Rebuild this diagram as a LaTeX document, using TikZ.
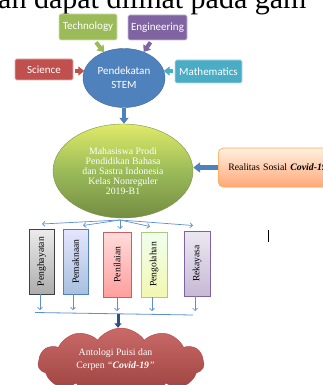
\documentclass[tikz,border=0pt]{standalone}
\usepackage{fontspec}
\setmainfont{Liberation Serif}
\newfontfamily\carlito{Carlito}
\usetikzlibrary{shapes.geometric,shapes.symbols,arrows.meta,calc}
\definecolor{scic}{HTML}{C0504D}
\definecolor{techc}{HTML}{9BBB59}
\definecolor{engc}{HTML}{8064A2}
\definecolor{mathc}{HTML}{4BACC6}
\definecolor{stemc}{HTML}{4F81BD}
\definecolor{fanc}{HTML}{5B8FD0}
\definecolor{darkarr}{HTML}{2C5283}
\begin{document}
\begin{tikzpicture}[x=1pt,y=-1pt,
  sbox/.style={rectangle, rounded corners=1.5pt, inner sep=0pt, text=white,
    font=\carlito\fontsize{11}{13}\selectfont, draw=white!55!#1, line width=0.6pt, fill=#1},
  blk/.style={line width=4pt, -{Triangle[width=9pt,length=6pt]}},
  thin arr/.style={fanc, line width=0.7pt, -{Straight Barb[length=2.5pt,width=5pt]}},
  vbox/.style={rectangle, rotate=90, inner sep=0pt, minimum width=65pt, line width=0.7pt,
    font=\fontsize{9.6}{11}\selectfont},
  serif/.style={font=\fontsize{9.8}{10}\selectfont}
]
\useasboundingbox (0,0) rectangle (323,385);
\clip (0,0) rectangle (323,385);

% top cut text line
\node[anchor=base west, inner sep=0pt, font=\fontsize{30}{32}\selectfont] (toptext) at (-2,8.5) {ah dapat dilihat pada gam};

% STEM cluster
\node[sbox=techc, minimum width=58pt, minimum height=26pt] (tech) at (88,27) {Technology};
\node[sbox=engc, minimum width=59pt, minimum height=25pt] (eng) at (157.5,27.5) {Engineering};
\node[sbox=scic, minimum width=58pt, minimum height=21pt] (sci) at (44,69.5) {Science};
\node[sbox=mathc, minimum width=67pt, minimum height=23pt] (math) at (208.5,71.5) {Mathematics};
\node[ellipse, inner sep=0pt, minimum width=82pt, minimum height=59pt, fill=stemc,
  draw=stemc!80!black, line width=0.4pt, text=white, align=center,
  font=\carlito\fontsize{11}{14}\selectfont] (stem) at (124,78) {Pendekatan\\STEM};

\draw[blk, techc] ([shift={(8,2)}]tech.south) -- (stem.128);
\draw[blk, engc] ([shift={(-7,2)}]eng.south) -- (stem.53);
\draw[blk, scic] ([shift={(2,1.5)}]sci.east) -- ++(9,0);
\draw[blk, mathc] ([shift={(-2,-0.5)}]math.west) -- ++(-9,0);

% central ellipse
\node[ellipse, inner sep=0pt, minimum width=140pt, minimum height=94pt,
  top color=techc!45!yellow!70!white, bottom color=techc!75!black, middle color=techc,
  draw=techc!80!black, line width=0.4pt, text=white, align=center,
  font=\fontsize{9.8}{10}\selectfont] (mhs) at (123,171)
  {Mahasiswa Prodi\\Pendidikan Bahasa\\dan Sastra Indonesia\\Kelas Nonreguler\\2019-B1};

\draw[blk, stemc] (stem.south) -- (stem.south |- mhs.north);

% Realitas box
\node[rectangle, rounded corners=5pt, anchor=west, inner xsep=10pt, inner ysep=0pt,
  minimum height=39pt, text width=105pt, align=left,
  top color=orange!12!white, bottom color=orange!45!white!85!red,
  draw=orange!70!white, line width=0.6pt, serif] (real) at (218,167.5)
  {Realitas Sosial \textbf{\textit{Covid-19}}};
\draw[stemc, line width=5pt, -{Triangle[width=10pt,length=7pt]}] (real.west) -- (real.west -| mhs.east);

% fan of arrows
\coordinate (fo) at (120,220);
\coordinate (f1) at (42,224);
\coordinate (f2) at (83,225.5);
\coordinate (f3) at (120,229);
\coordinate (f4) at (150,226.5);
\coordinate (f5) at (193,225.5);
\foreach \i in {1,...,5} \draw[thin arr] (fo) -- (f\i);

% vertical boxes
\node[vbox, minimum height=25pt, top color=gray!15, bottom color=gray!65, draw=black!75] (pengh) at (41.5,261.5) {Penghayatan};
\node[vbox, minimum height=25pt, top color=blue!10!white, bottom color=stemc!50!white, draw=stemc] (pemak) at (75.5,261.5) {Pemaknaan};
\node[vbox, minimum height=28pt, top color=red!14!white, bottom color=red!38!white, draw=scic!90!white] (penil) at (117,264.5) {Penilaian};
\node[vbox, minimum height=26pt, top color=green!6!white, bottom color=techc!35!yellow!35!white, draw=techc!80!white] (pengo) at (154,264.5) {Pengolahan};
\node[vbox, minimum height=26pt, top color=engc!15!white, bottom color=engc!45!white, draw=engc] (rekay) at (197,263.5) {Rekayasa};

% arrows below boxes
\coordinate (b1) at (40,310);
\coordinate (b2) at (73,310);
\coordinate (b3) at (117,311);
\coordinate (b4) at (152,311);
\coordinate (b5) at (195,311);
\draw[thin arr] (pengh.west -| b1) -- (b1);
\draw[thin arr] (pemak.west -| b2) -- (b2);
\draw[thin arr] (penil.west -| b3) -- (b3);
\draw[thin arr] (pengo.west -| b4) -- (b4);
\draw[thin arr] (rekay.west -| b5) -- (b5);
\coordinate (hl) at (35,312.5);
\coordinate (hr) at (193,315);
\draw[fanc, line width=0.8pt] (hl) -- (hr);

% cloud
\node[cloud, cloud puffs=11, cloud puff arc=110, aspect=2.5, inner sep=0pt,
  minimum width=166pt, minimum height=70pt,
  top color=scic!85!white, bottom color=scic!80!black, draw=scic!90!black, line width=0.4pt] (cloud) at (121,363) {};
\node[text=white, align=center, inner sep=0pt, font=\fontsize{9.8}{13}\selectfont] (cloudtxt) at (115.5,359.5)
  {Antologi Puisi dan\\Cerpen \textit{``\textbf{Covid-19}''}};
\coordinate (cs) at (118,313.5);
\draw[darkarr, line width=3pt, -{Triangle[width=7pt,length=4.5pt]}] (cs) -- (cs |- cloud.north);

% text cursor mark
\draw[black, line width=1.3pt] (268.5,230) -- (268.5,242);
\end{tikzpicture}
\end{document}
